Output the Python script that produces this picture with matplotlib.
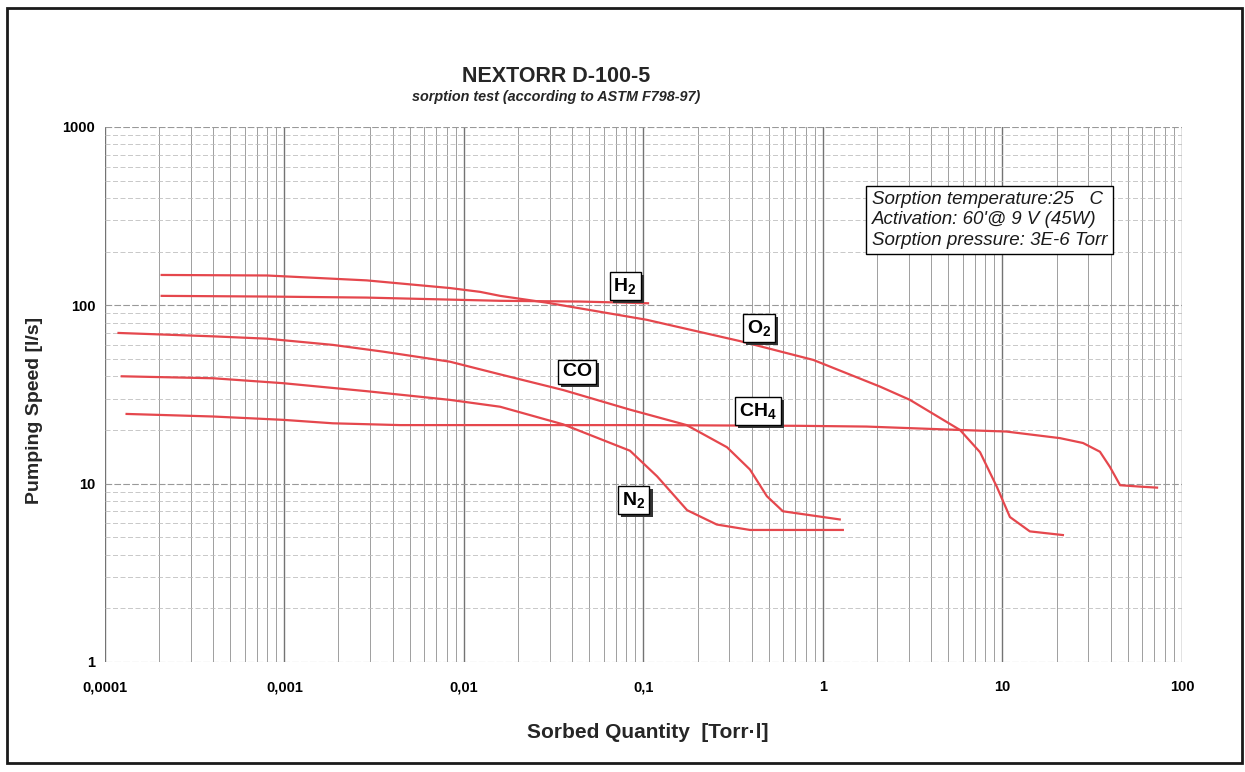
"""NEXTORR D-100-5 sorption curves (pumping speed vs sorbed quantity), log-log."""

import matplotlib
matplotlib.use("Agg")
import matplotlib.pyplot as plt
import matplotlib.patheffects as pe
from matplotlib.patches import Rectangle
from matplotlib.ticker import LogLocator, NullFormatter

plt.rcParams["font.family"] = ["Liberation Sans", "DejaVu Sans"]
plt.rcParams["mathtext.fontset"] = "custom"
plt.rcParams["mathtext.rm"] = "Liberation Sans"
plt.rcParams["mathtext.bf"] = "Liberation Sans:bold"

# --- data (Torr*l, l/s) ---
h2_q = [0.000207, 0.0008, 0.00287, 0.0159, 0.0443, 0.106]
h2_s = [113, 112, 110.5, 106, 105, 102.7]

o2_q = [0.000207, 0.0008, 0.00287, 0.00835, 0.0123, 0.0159, 0.0289, 0.104,
        0.345, 0.884, 2.08, 3.05, 5.8, 7.5, 9.3, 11.0, 14.2, 21.7]
o2_s = [148, 147, 138, 125, 119, 113, 103.5, 83,
        63, 49.4, 35, 29.5, 20, 15, 9.6, 6.5, 5.4, 5.15]

co_q = [0.000119, 0.0004, 0.0008, 0.00186, 0.00354, 0.00835, 0.0159, 0.0357,
        0.0841, 0.174, 0.292, 0.392, 0.487, 0.598, 1.24]
co_s = [70, 67, 65, 60, 55, 48.3, 41, 33.5,
        26, 21.3, 16, 12, 8.5, 7.0, 6.3]

n2_q = [0.000124, 0.0004, 0.00098, 0.00287, 0.00835, 0.0159, 0.0357, 0.0841,
        0.119, 0.175, 0.256, 0.392, 1.29]
n2_s = [40, 39, 36.6, 33, 29.5, 27, 21.5, 15.3,
        11, 7.1, 5.9, 5.5, 5.5]

ch4_q = [0.000132, 0.0004, 0.00098, 0.00186, 0.0044, 0.0159, 0.1, 0.745,
         1.75, 5.8, 10.5, 20.9, 28.1, 34.9, 39.7, 45.2, 60.7, 72.6]
ch4_s = [24.6, 23.8, 22.8, 21.8, 21.3, 21.3, 21.3, 21.1,
         20.9, 20.0, 19.6, 18.0, 16.9, 15.1, 12.4, 9.8, 9.6, 9.5]

x_ticks = [1e-4, 1e-3, 1e-2, 1e-1, 1, 10, 100]
x_ticklabels = ["0,0001", "0,001", "0,01", "0,1", "1", "10", "100"]
y_ticks = [1, 10, 100, 1000]
y_ticklabels = ["1", "10", "100", "1000"]

# curve tags placed where they sit on the scan (data coords)
tags = [
    (r"$\mathbf{H_2}$", 0.079, 128),
    (r"$\mathbf{O_2}$", 0.44, 74.7),
    (r"$\mathbf{CO}$", 0.0427, 42.3),
    (r"$\mathbf{CH_4}$", 0.434, 25.6),
    (r"$\mathbf{N_2}$", 0.0885, 8.1),
]

RED = "#e5474d"


def main() -> None:
    fig = plt.figure(figsize=(12.45, 7.72), dpi=100)
    ax = fig.add_axes([0.0843, 0.1425, 0.8651, 0.693])
    ax.set_xscale("log")
    ax.set_yscale("log")
    ax.set_xlim(1e-4, 100)
    ax.set_ylim(1, 1000)

    ax.xaxis.set_minor_locator(LogLocator(base=10, subs=range(2, 10)))
    ax.yaxis.set_minor_locator(LogLocator(base=10, subs=range(2, 10)))
    ax.xaxis.set_minor_formatter(NullFormatter())
    ax.yaxis.set_minor_formatter(NullFormatter())
    ax.xaxis.grid(True, which="major", color="0.45", lw=1.0)
    ax.xaxis.grid(True, which="minor", color="0.62", lw=0.7)
    ax.yaxis.grid(True, which="major", color="0.6", lw=0.8, ls=(0, (6, 2)))
    ax.yaxis.grid(True, which="minor", color="0.75", lw=0.6, ls=(0, (6, 3)))
    ax.set_axisbelow(True)
    for s in ax.spines.values():
        s.set_visible(False)

    ax.set_xticks(x_ticks)
    ax.set_xticklabels(x_ticklabels)
    ax.set_yticks(y_ticks)
    ax.set_yticklabels(y_ticklabels)
    ax.tick_params(which="both", length=0)
    ax.tick_params(axis="x", pad=13, labelsize=10.5)
    ax.tick_params(axis="y", pad=7, labelsize=10.5)
    for lab in ax.get_xticklabels() + ax.get_yticklabels():
        lab.set_fontweight("bold")

    for q, s in [(h2_q, h2_s), (o2_q, o2_s), (co_q, co_s), (n2_q, n2_s), (ch4_q, ch4_s)]:
        ax.plot(q, s, color=RED, lw=1.6)

    for txt, x, y in tags:
        t = ax.text(x, y, txt, ha="center", va="center", fontsize=14,
                    bbox=dict(boxstyle="square,pad=0.2", fc="white", ec="black", lw=1))
        t.get_bbox_patch().set_path_effects(
            [pe.SimplePatchShadow(offset=(2.2, -2.2), shadow_rgbFace="0.2", alpha=1.0),
             pe.Normal()])

    ax.text(0.712, 0.88,
            "Sorption temperature:25   C\nActivation: 60'@ 9 V (45W)\nSorption pressure: 3E-6 Torr",
            transform=ax.transAxes, ha="left", va="top", fontsize=13.5, style="italic",
            linespacing=1.25, color="0.1",
            bbox=dict(boxstyle="square,pad=0.3", fc="white", ec="black", lw=1))

    fig.text(556 / 1245, 1 - 77 / 772, "NEXTORR D-100-5", ha="center", va="center",
             fontsize=15.5, fontweight="bold", color="0.15")
    fig.text(556 / 1245, 1 - 97 / 772, "sorption test (according to ASTM F798-97)",
             ha="center", va="center", fontsize=10.4, fontweight="bold", style="italic",
             color="0.15")
    fig.text(35 / 1245, 1 - 410 / 772, "Pumping Speed [l/s]", rotation=90,
             ha="center", va="center", fontsize=14, fontweight="bold", color="0.15")
    fig.text(648 / 1245, 1 - 732 / 772, "Sorbed Quantity  [Torr\u00b7l]",
             ha="center", va="center", fontsize=15, fontweight="bold", color="0.15")

    # outer frame of the scanned page
    fig.patches.append(Rectangle((7 / 1245, 1 - 763 / 772), 1235 / 1245, 755 / 772,
                                 transform=fig.transFigure, fill=False,
                                 ec="0.1", lw=2))

    fig.savefig("out.png", dpi=100)


if __name__ == "__main__":
    main()
